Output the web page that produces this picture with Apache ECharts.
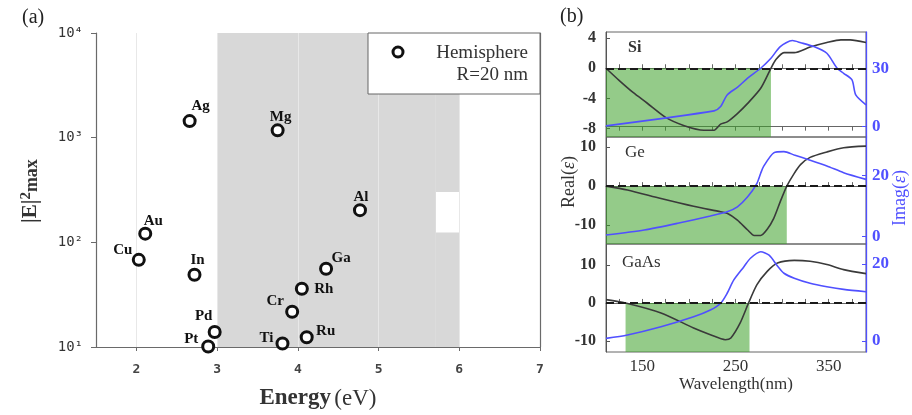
<!DOCTYPE html>
<html>
<head>
<meta charset="utf-8">
<script src="https://cdn.jsdelivr.net/npm/echarts@6/dist/echarts.min.js"></script>
<style>
  html, body { margin: 0; padding: 0; background: #fff; }
  #chart { width: 912px; height: 415px; }
</style>
</head>
<body>
<div id="chart"></div>
<script>
// ---------- Panel (a): peak |E|^2 of 20 nm hemispheres vs. plasmon energy ----------
const metals   = ['Ag', 'Mg', 'Al', 'Au', 'Cu', 'In', 'Ga', 'Rh', 'Cr', 'Pd', 'Pt', 'Ti', 'Ru'];
const energyEv = [2.66, 3.75, 4.77, 2.11, 2.03, 2.72, 4.35, 4.05, 3.93, 2.97, 2.89, 3.81, 4.11];
const fieldMax = [1440, 1175, 203, 121, 68, 49, 56, 36, 21.7, 13.9, 10.1, 10.8, 12.4];
const energyTicks = [2, 3, 4, 5, 6, 7];
const fieldTicks  = [10, 100, 1000, 10000];
// UV window (eV) and the gap cut out of it near 6 eV
const uvBand   = [3, 6];
const uvGapX   = 5.71;
const uvGapY   = [124, 302];

// ---------- Panel (b): permittivity of Si, Ge, GaAs ----------
const wlLabelTicks = [150, 250, 350];
const wlMinorTicks = [125, 150, 175, 200, 225, 250, 275, 300, 325, 350, 375];

const siWlRe = [111, 125, 140, 155, 175, 195, 216, 227, 234, 241, 252, 263, 277, 288, 293, 302, 313, 330, 348, 363, 373, 390];
const siRe   = [0, -1.6, -3.2, -4.6, -6.5, -7.6, -8.2, -8.2, -7.4, -7.1, -6.0, -4.65, -2.65, 0, 1.1, 2.07, 2.07, 2.8, 3.4, 3.76, 3.76, 3.4];
const siWlIm = [111, 227, 234, 241, 252, 263, 277, 288, 298, 311, 320, 334, 348, 359, 366, 375, 379, 390];
const siIm   = [0.4, 8.1, 10.3, 16.3, 20.2, 24.9, 30, 35.1, 41.1, 44.2, 43.1, 41.1, 37.7, 30, 27.4, 24, 16.3, 11.2];

const geWlRe = [111, 134, 170, 205, 234, 241, 252, 263, 270, 277, 284, 291, 298, 305, 313, 320, 330, 348, 366, 390];
const geRe   = [0, -1.0, -3.2, -5.2, -6.6, -7.0, -8.75, -11.3, -12.7, -12.7, -11.1, -8.3, -4.0, 0, 3.3, 5.6, 7.4, 8.8, 9.9, 10.3];
const geWlIm = [111, 152, 188, 223, 241, 252, 263, 273, 277, 280, 291, 302, 313, 330, 348, 366, 390];
const geIm   = [0.56, 2.2, 4.4, 6.8, 8.2, 9.8, 13.1, 17.5, 20.8, 23, 27.5, 27.9, 26.8, 25.1, 23.2, 21, 18.8];

const gaWlRe = [111, 132, 170, 205, 223, 239, 245, 255, 264, 273, 284, 295, 313, 330, 348, 366, 390];
const gaRe   = [0.87, 0, -2.63, -6.58, -8.34, -9.66, -9.2, -5.26, 0, 4.8, 8.3, 10.5, 11.2, 10.96, 10.1, 8.76, 7.7];
const gaWlIm = [111, 134, 170, 205, 223, 234, 241, 248, 259, 266, 277, 286, 295, 302, 313, 330, 348, 366, 390];
const gaIm   = [0.69, 1.56, 3.7, 6.3, 8.05, 9.8, 12.4, 15.8, 19.3, 21.5, 23.2, 22.3, 19.5, 17.6, 16.3, 15, 14.1, 13.4, 12.8];

// wavelength span where Real(eps) < 0
const negSi = [111, 288];
const negGe = [111, 305];
const negGa = [132, 265];

// ---------- styling ----------
const SERIF = 'Liberation Serif';
const MONO = 'DejaVu Sans Mono';
const AX = '#6a6a6a';
const BLUE = '#5050ff';
const REAL = '#3a3a3a';
const GREEN = 'rgba(60,160,40,0.55)';

// where each element symbol's name sits relative to the marker centre (px)
const nameOffset = {
  Ag: [11, -15], Mg: [3, -14], Al: [1, -14], Au: [8, -13], Cu: [-16, -10],
  In: [3, -15], Ga: [15, -11], Rh: [22, 0], Cr: [-17, -11], Pd: [-11, -16],
  Pt: [-17, -8], Ti: [-16, -6], Ru: [19, -7]
};
const MARK = 11;

const sup = { 1: '\u00b9', 2: '\u00b2', 3: '\u00b3', 4: '\u2074' };
const zip = (xs, ys) => xs.map((x, i) => [x, ys[i]]);

const panels = [
  { name: 'Si',   top: 32,  height: 105, re: [-9.1, 4.8],   im: [-5.3, 48.6], reTicks: [-8, -4, 0, 4], imTicks: [0, 30],
    wlRe: siWlRe, re_: siRe, wlIm: siWlIm, im_: siIm, neg: negSi },
  { name: 'Ge',   top: 137, height: 107, re: [-14.9, 12.65], im: [-2.4, 32.7], reTicks: [-10, 0, 10], imTicks: [0, 20],
    wlRe: geWlRe, re_: geRe, wlIm: geWlIm, im_: geIm, neg: negGe },
  { name: 'GaAs', top: 244, height: 108, re: [-12.9, 15.5], im: [-2.86, 25.2], reTicks: [-10, 0, 10], imTicks: [0, 20],
    wlRe: gaWlRe, re_: gaRe, wlIm: gaWlIm, im_: gaIm, neg: negGa }
];

const WL_MIN = 111, WL_MAX = 390;

const grids = [{ left: 96, top: 33, width: 444, height: 317 }];
const xAxes = [{
  type: 'value', gridIndex: 0, min: 1.5, max: 7,
  axisLine: { lineStyle: { color: AX, width: 1.2 } },
  axisTick: { customValues: energyTicks, length: 4, lineStyle: { color: AX } },
  axisLabel: { customValues: energyTicks, margin: 16, fontFamily: MONO, fontWeight: 'bold', fontSize: 13, color: '#444' },
  splitLine: { show: false },
  name: '{b|Energy} {n|(eV)}', nameLocation: 'middle', nameGap: 40,
  nameTextStyle: { rich: {
    b: { fontFamily: SERIF, fontWeight: 'bold', fontSize: 23, color: '#333' },
    n: { fontFamily: SERIF, fontSize: 23, color: '#333' } } }
}];
const yAxes = [{
  type: 'log', gridIndex: 0, min: 10, max: 10000, logBase: 10,
  axisLine: { lineStyle: { color: AX, width: 1.2 } },
  axisTick: { length: 5, lineStyle: { color: AX } },
  axisLabel: { margin: 13, fontFamily: MONO, fontSize: 14, color: '#333',
    formatter: v => '10' + sup[Math.round(Math.log10(v))] },
  splitLine: { show: false }
}, {
  type: 'log', gridIndex: 0, min: 10, max: 10000, logBase: 10, position: 'right',
  axisLine: { show: true, lineStyle: { color: AX, width: 1.2 } },
  axisTick: { show: false }, axisLabel: { show: false }, splitLine: { show: false }
}];

const series = [
  // UV window shading
  { type: 'line', xAxisIndex: 0, yAxisIndex: 0, data: [], z: 1, silent: true,
    markArea: { silent: true, itemStyle: { color: '#d8d8d8' }, data: [
      [{ xAxis: uvBand[0], yAxis: fieldTicks[0] }, { xAxis: uvGapX, yAxis: fieldTicks[3] }],
      [{ xAxis: uvGapX, yAxis: uvGapY[1] }, { xAxis: uvBand[1], yAxis: fieldTicks[3] }],
      [{ xAxis: uvGapX, yAxis: fieldTicks[0] }, { xAxis: uvBand[1], yAxis: uvGapY[0] }]
    ] } },
  // faint vertical guides at the integer energies
  { type: 'line', xAxisIndex: 0, yAxisIndex: 0, data: [], z: 2, silent: true,
    markLine: { silent: true, symbol: 'none', label: { show: false },
      lineStyle: { color: '#e8e8e8', width: 1, type: 'solid' },
      data: energyTicks.slice(0, 5).map(x => ({ xAxis: x })) } },
  // element markers
  { type: 'scatter', xAxisIndex: 0, yAxisIndex: 0, z: 5,
    symbol: 'circle', symbolSize: MARK,
    itemStyle: { color: '#fff', borderColor: '#111', borderWidth: 3, opacity: 1 },
    label: { show: true, position: 'top', distance: 0, align: 'center', verticalAlign: 'middle',
      formatter: '{b}', fontFamily: SERIF, fontWeight: 'bold', fontSize: 15, color: '#111' },
    data: metals.map((m, i) => ({
      name: m, value: [energyEv[i], fieldMax[i]],
      label: { offset: [nameOffset[m][0], nameOffset[m][1] + (MARK + 4) / 2] }
    }))
  }
];

panels.forEach((p, k) => {
  const g = k + 1;
  grids.push({ left: 606, top: p.top, width: 260, height: p.height, show: true, borderColor: '#666', borderWidth: 1 });
  const xi = xAxes.length;
  const last = k === panels.length - 1;
  xAxes.push({
    type: 'value', gridIndex: g, min: WL_MIN, max: WL_MAX,
    axisLine: { lineStyle: { color: '#666' } },
    axisTick: { inside: true, length: 4, customValues: wlMinorTicks, lineStyle: { color: '#666' } },
    axisLabel: last
      ? { customValues: wlLabelTicks, margin: 6, fontFamily: SERIF, fontSize: 17, color: '#333' }
      : { show: false },
    splitLine: { show: false },
    name: last ? 'Wavelength(nm)' : '', nameLocation: 'middle', nameGap: 24,
    nameTextStyle: { fontFamily: SERIF, fontSize: 17, color: '#333' }
  });
  if (k === 0) {
    xAxes.push({
      type: 'value', gridIndex: g, min: WL_MIN, max: WL_MAX, position: 'top',
      axisLine: { lineStyle: { color: '#666' } },
      axisTick: { inside: true, length: 4, customValues: wlMinorTicks, lineStyle: { color: '#666' } },
      axisLabel: { show: false }, splitLine: { show: false }
    });
  }
  const yr = yAxes.length;
  yAxes.push({
    type: 'value', gridIndex: g, min: p.re[0], max: p.re[1],
    axisLine: { lineStyle: { color: '#555' } },
    axisTick: { inside: true, length: 4, customValues: p.reTicks, lineStyle: { color: '#555' } },
    axisLabel: { customValues: p.reTicks, margin: 10, fontFamily: SERIF, fontWeight: 'bold', fontSize: 16, color: '#333' },
    splitLine: { show: false }
  });
  const yi = yAxes.length;
  yAxes.push({
    type: 'value', gridIndex: g, min: p.im[0], max: p.im[1], position: 'right',
    axisLine: { show: true, lineStyle: { color: BLUE, width: 1.3 } },
    axisTick: { inside: true, length: 4, customValues: p.imTicks, lineStyle: { color: BLUE } },
    axisLabel: { customValues: p.imTicks, margin: 6, fontFamily: SERIF, fontWeight: 'bold', fontSize: 17, color: BLUE },
    splitLine: { show: false }
  });
  series.push(
    { type: 'line', xAxisIndex: xi, yAxisIndex: yr, data: zip(p.wlRe, p.re_), smooth: 0.25,
      showSymbol: false, z: 2, lineStyle: { color: REAL, width: 1.6 } },
    { type: 'line', xAxisIndex: xi, yAxisIndex: yi, data: zip(p.wlIm, p.im_), smooth: 0.25,
      showSymbol: false, z: 2, lineStyle: { color: BLUE, width: 1.6 } },
    // negative-permittivity band
    { type: 'line', xAxisIndex: xi, yAxisIndex: yr, data: [], z: 3, silent: true,
      markArea: { silent: true, itemStyle: { color: GREEN },
        data: [[{ xAxis: p.neg[0], yAxis: p.re[0] }, { xAxis: p.neg[1], yAxis: 0 }]] } },
    // Real(eps) = 0 reference
    { type: 'line', xAxisIndex: xi, yAxisIndex: yr, data: [], z: 4, silent: true,
      markLine: { silent: true, symbol: 'none', label: { show: false },
        lineStyle: { color: '#1a1a1a', width: 2, type: [8, 4] },
        data: [{ yAxis: 0 }] } }
  );
});

const graphics = [
  { type: 'text', left: 22, top: 8, style: { text: '(a)', fontFamily: SERIF, fontSize: 20, fill: '#222' } },
  { type: 'text', left: 560, top: 7, style: { text: '(b)', fontFamily: SERIF, fontSize: 20, fill: '#222' } },
  // |E|^2_max axis title
  { type: 'text', x: 30, y: 191, rotation: Math.PI / 2,
    style: { text: '{e||E|}{s|2}{m|max}', align: 'center', verticalAlign: 'middle',
      rich: {
        e: { fontFamily: SERIF, fontWeight: 'bold', fontSize: 21, lineHeight: 22, verticalAlign: 'bottom', fill: '#333' },
        s: { fontFamily: SERIF, fontWeight: 'bold', fontSize: 15, lineHeight: 15, padding: [0, 0, 16, 0], verticalAlign: 'top', fill: '#333' },
        m: { fontFamily: SERIF, fontWeight: 'bold', fontSize: 18, lineHeight: 18, verticalAlign: 'bottom', fill: '#333' }
      } } },
  // legend box
  { type: 'group', x: 368, y: 33, z: 100, children: [
    { type: 'rect', z: 100, shape: { x: 0, y: 0, width: 172, height: 61 }, style: { fill: '#fff', stroke: '#666', lineWidth: 1 } },
    { type: 'circle', z: 101, shape: { cx: 30, cy: 19, r: 5 }, style: { fill: '#fff', stroke: '#111', lineWidth: 3 } },
    { type: 'text', z: 101, x: 160, y: 20, style: { text: 'Hemisphere', align: 'right', verticalAlign: 'middle', fontFamily: SERIF, fontSize: 19, fill: '#333' } },
    { type: 'text', z: 101, x: 160, y: 42, style: { text: 'R=20 nm', align: 'right', verticalAlign: 'middle', fontFamily: SERIF, fontSize: 19, fill: '#333' } }
  ] },
  // material names
  { type: 'text', x: 628, y: 48, style: { text: 'Si', verticalAlign: 'middle', fontFamily: SERIF, fontWeight: 'bold', fontSize: 16, fill: '#333' } },
  { type: 'text', x: 625, y: 153, style: { text: 'Ge', verticalAlign: 'middle', fontFamily: SERIF, fontSize: 17, fill: '#333' } },
  { type: 'text', x: 622, y: 263, style: { text: 'GaAs', verticalAlign: 'middle', fontFamily: SERIF, fontSize: 17, fill: '#333' } },
  // panel (b) axis titles
  { type: 'text', x: 569, y: 182, rotation: Math.PI / 2,
    style: { text: '{n|Real(}{i|\u03b5}{n|)}', align: 'center', verticalAlign: 'middle',
      rich: { n: { fontFamily: SERIF, fontSize: 18, fill: '#333' }, i: { fontFamily: SERIF, fontStyle: 'italic', fontSize: 18, fill: '#333' } } } },
  { type: 'text', x: 900, y: 198, rotation: Math.PI / 2,
    style: { text: '{n|Imag(}{i|\u03b5}{n|)}', align: 'center', verticalAlign: 'middle',
      rich: { n: { fontFamily: SERIF, fontSize: 18, fill: BLUE }, i: { fontFamily: SERIF, fontStyle: 'italic', fontSize: 18, fill: BLUE } } } }
];

const chart = echarts.init(document.getElementById('chart'), null, { renderer: 'canvas' });
chart.setOption({
  animation: false,
  backgroundColor: '#fff',
  grid: grids,
  xAxis: xAxes,
  yAxis: yAxes,
  series: series,
  graphic: graphics
});
</script>
</body>
</html>
